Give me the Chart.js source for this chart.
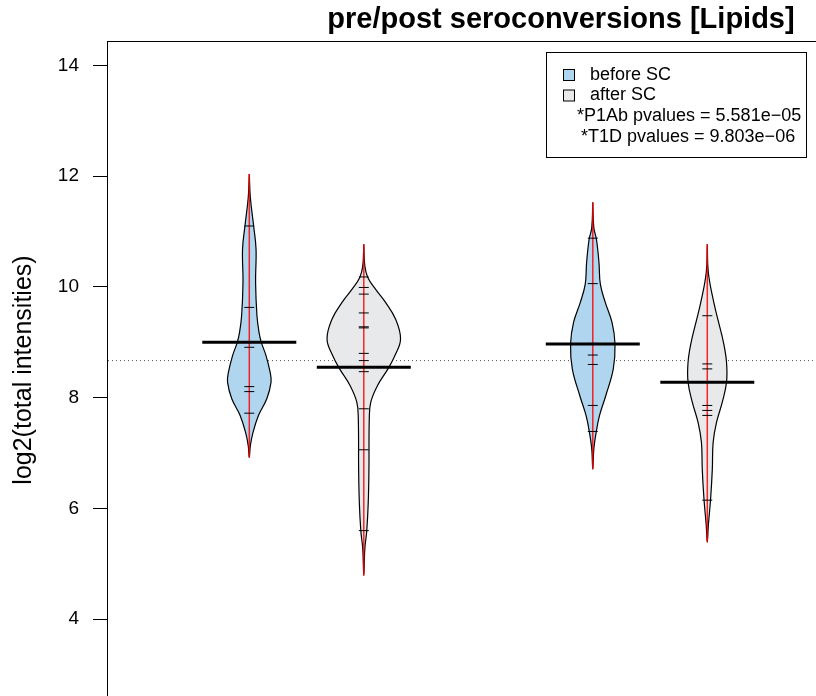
<!DOCTYPE html>
<html>
<head>
<meta charset="utf-8">
<script src="https://cdn.jsdelivr.net/npm/chart.js@4.4.1/dist/chart.umd.min.js"></script>
<style>
  html, body { margin: 0; padding: 0; overflow: hidden; background: #fff; }
  #mycanvas { display: block; }
</style>
</head>
<body>
<canvas id="mycanvas" width="1122" height="700"></canvas>
<script>
// bean positions on the x axis and their groups
var positions = [1, 2, 4, 5];
var groups = ["before SC", "after SC", "before SC", "after SC"];
var yTicks = [4, 6, 8, 10, 12, 14];

// density outline of each bean: y levels and half width (x units)
var levels1 = [12.04, 11.62, 11.10, 10.68, 10.08, 9.48, 9.18, 9.00, 8.76, 8.46, 8.28, 7.98, 7.68, 7.37, 7.13, 6.92];
var widths1 = [0, 0.009, 0.038, 0.059, 0.055, 0.067, 0.085, 0.105, 0.146, 0.182, 0.190, 0.153, 0.080, 0.032, 0.009, 0];
var levels2 = [10.77, 10.38, 10.17, 9.96, 9.72, 9.42, 9.06, 8.76, 8.52, 8.22, 7.92, 7.62, 6.71, 6.11, 5.60, 5.27, 4.79];
var widths2 = [0, 0.009, 0.035, 0.102, 0.190, 0.277, 0.321, 0.272, 0.211, 0.120, 0.061, 0.048, 0.045, 0.039, 0.026, 0.009, 0];
var levels3 = [11.53, 11.07, 10.86, 10.44, 10.05, 9.72, 9.36, 8.97, 8.52, 8.04, 7.68, 7.37, 7.07, 6.71];
var widths3 = [0, 0.009, 0.032, 0.054, 0.066, 0.109, 0.168, 0.194, 0.179, 0.114, 0.059, 0.029, 0.009, 0];
var levels4 = [10.77, 10.26, 9.72, 9.36, 9.00, 8.64, 8.28, 7.92, 7.55, 7.19, 6.71, 6.17, 5.69, 5.39];
var widths4 = [0, 0.009, 0.057, 0.099, 0.141, 0.168, 0.168, 0.131, 0.080, 0.051, 0.044, 0.029, 0.009, 0];

// single observations (bean lines)
var obs1 = [11.10, 9.63, 8.91, 8.20, 8.11, 7.72];
var obs2 = [10.18, 9.99, 9.87, 9.53, 9.28, 9.26, 8.80, 8.67, 8.47, 7.80, 7.06, 5.60];
var obs3 = [10.88, 10.06, 8.98, 8.77, 8.60, 7.86, 7.39];
var obs4 = [9.48, 8.61, 8.52, 7.86, 7.77, 7.68, 6.15];

// bean averages and overall mean
var beanMeans = [9.00, 8.55, 8.97, 8.28];
var overallMean = 8.67;

var pvalueLines = ["*P1Ab pvalues = 5.581e\u221205", "*T1D pvalues = 9.803e\u221206"];

var xMin = -0.234, xMax = 8.622;
var yMin = 2.56, yMax = 14.44;

var fillColors = { "before SC": "rgb(176,214,239)", "after SC": "rgb(232,233,235)" };
var fontFamily = "'Liberation Sans', Arial, Helvetica, sans-serif";

var allLevels = [levels1, levels2, levels3, levels4];
var allWidths = [widths1, widths2, widths3, widths4];
var allObs = [obs1, obs2, obs3, obs4];

function beanOutline(pos, lev, wid) {
	var pts = [];
	for (var i = 0; i < lev.length; i++) pts.push({ x: pos - wid[i], y: lev[i] });
	for (var j = lev.length - 2; j >= 0; j--) pts.push({ x: pos + wid[j], y: lev[j] });
	return pts;
}

var datasets = [];

// overall mean, dotted, underneath everything
datasets.push({
	data: [{ x: xMin, y: overallMean }, { x: xMax, y: overallMean }],
	showLine: true, borderColor: "#555", borderWidth: 1, borderDash: [1, 3],
	pointRadius: 0, order: 6
});

for (var b = 0; b < positions.length; b++) {
	var pos = positions[b];
	var lev = allLevels[b];
	datasets.push({
		data: beanOutline(pos, lev, allWidths[b]),
		showLine: true, fill: "shape", tension: 0.4,
		backgroundColor: fillColors[groups[b]],
		borderColor: "#000", borderWidth: 1.2,
		pointRadius: 0, order: 5
	});
	datasets.push({
		data: [{ x: pos, y: lev[0] }, { x: pos, y: lev[lev.length - 1] }],
		showLine: true, borderColor: "rgba(255,0,0,0.85)", borderWidth: 1.5,
		pointRadius: 0, order: 4
	});
	datasets.push({
		data: allObs[b].map(function (v) { return { x: pos, y: v }; }),
		showLine: false, pointStyle: "line", pointRadius: 5,
		pointBorderWidth: 1, pointBorderColor: "#000", order: 3
	});
	datasets.push({
		data: [{ x: pos, y: beanMeans[b] }],
		showLine: false, pointStyle: "line", pointRadius: 47,
		pointBorderWidth: 3, pointBorderColor: "#000", order: 2
	});
}

var framePlugin = {
	id: "frame",
	afterDatasetsDraw: function (chart) {
		var a = chart.chartArea, ctx = chart.ctx;
		ctx.save();
		ctx.strokeStyle = "#000";
		ctx.lineWidth = 1;
		ctx.strokeRect(Math.round(a.left) - 0.5, Math.round(a.top) + 0.5, Math.round(a.right - a.left), Math.round(a.bottom - a.top));
		ctx.restore();
	}
};

var legendPlugin = {
	id: "beanLegend",
	afterDraw: function (chart) {
		var ctx = chart.ctx;
		ctx.save();
		ctx.fillStyle = "#fff";
		ctx.fillRect(546, 52, 260, 105);
		ctx.strokeStyle = "#000";
		ctx.lineWidth = 1;
		ctx.strokeRect(546.5, 52.5, 260, 105);
		ctx.font = "18px " + fontFamily;
		ctx.textBaseline = "middle";
		ctx.textAlign = "left";
		var names = ["before SC", "after SC"];
		for (var i = 0; i < names.length; i++) {
			var cy = 75 + i * 20.5;
			ctx.fillStyle = fillColors[names[i]];
			ctx.fillRect(563.5, cy - 5.5, 11, 11);
			ctx.strokeRect(563.5, cy - 5.5, 11, 11);
			ctx.fillStyle = "#000";
			ctx.fillText(names[i], 590, cy);
		}
		ctx.fillText(pvalueLines[0], 577, 116.5);
		ctx.fillText(pvalueLines[1], 581, 137.5);
		ctx.restore();
	}
};

var ctx = document.getElementById("mycanvas");
var chart = new Chart(ctx, {
	type: "scatter",
	data: { datasets: datasets },
	plugins: [framePlugin, legendPlugin],
	options: {
		responsive: false,
		animation: false,
		devicePixelRatio: 1,
		events: [],
		layout: { autoPadding: false, padding: { left: 0, right: 0, top: 0, bottom: 1 } },
		plugins: {
			legend: { display: false },
			tooltip: { enabled: false },
			title: {
				display: true,
				text: "pre/post seroconversions [Lipids]",
				color: "#000",
				font: { family: fontFamily, size: 29, weight: "bold", lineHeight: 1.2 },
				padding: { top: 3, bottom: 3.2 }
			}
		},
		scales: {
			x: { type: "linear", min: xMin, max: xMax, display: false },
			y: {
				type: "linear", min: yMin, max: yMax,
				afterBuildTicks: function (scale) {
					scale.ticks = yTicks.map(function (v) { return { value: v }; });
				},
				afterFit: function (scale) {
					scale.width = 108;
					scale.paddingTop = 0;
					scale.paddingBottom = 0;
				},
				border: { display: false },
				grid: { drawOnChartArea: false, drawTicks: true, tickLength: 15, color: "#000", lineWidth: 1 },
				ticks: { color: "#000", padding: 14, font: { family: fontFamily, size: 19 } },
				title: {
					display: true, text: "log2(total intensities)", color: "#000",
					font: { family: fontFamily, size: 25 },
					padding: { top: 9, bottom: 0 }
				}
			}
		}
	}
});
</script>
</body>
</html>
